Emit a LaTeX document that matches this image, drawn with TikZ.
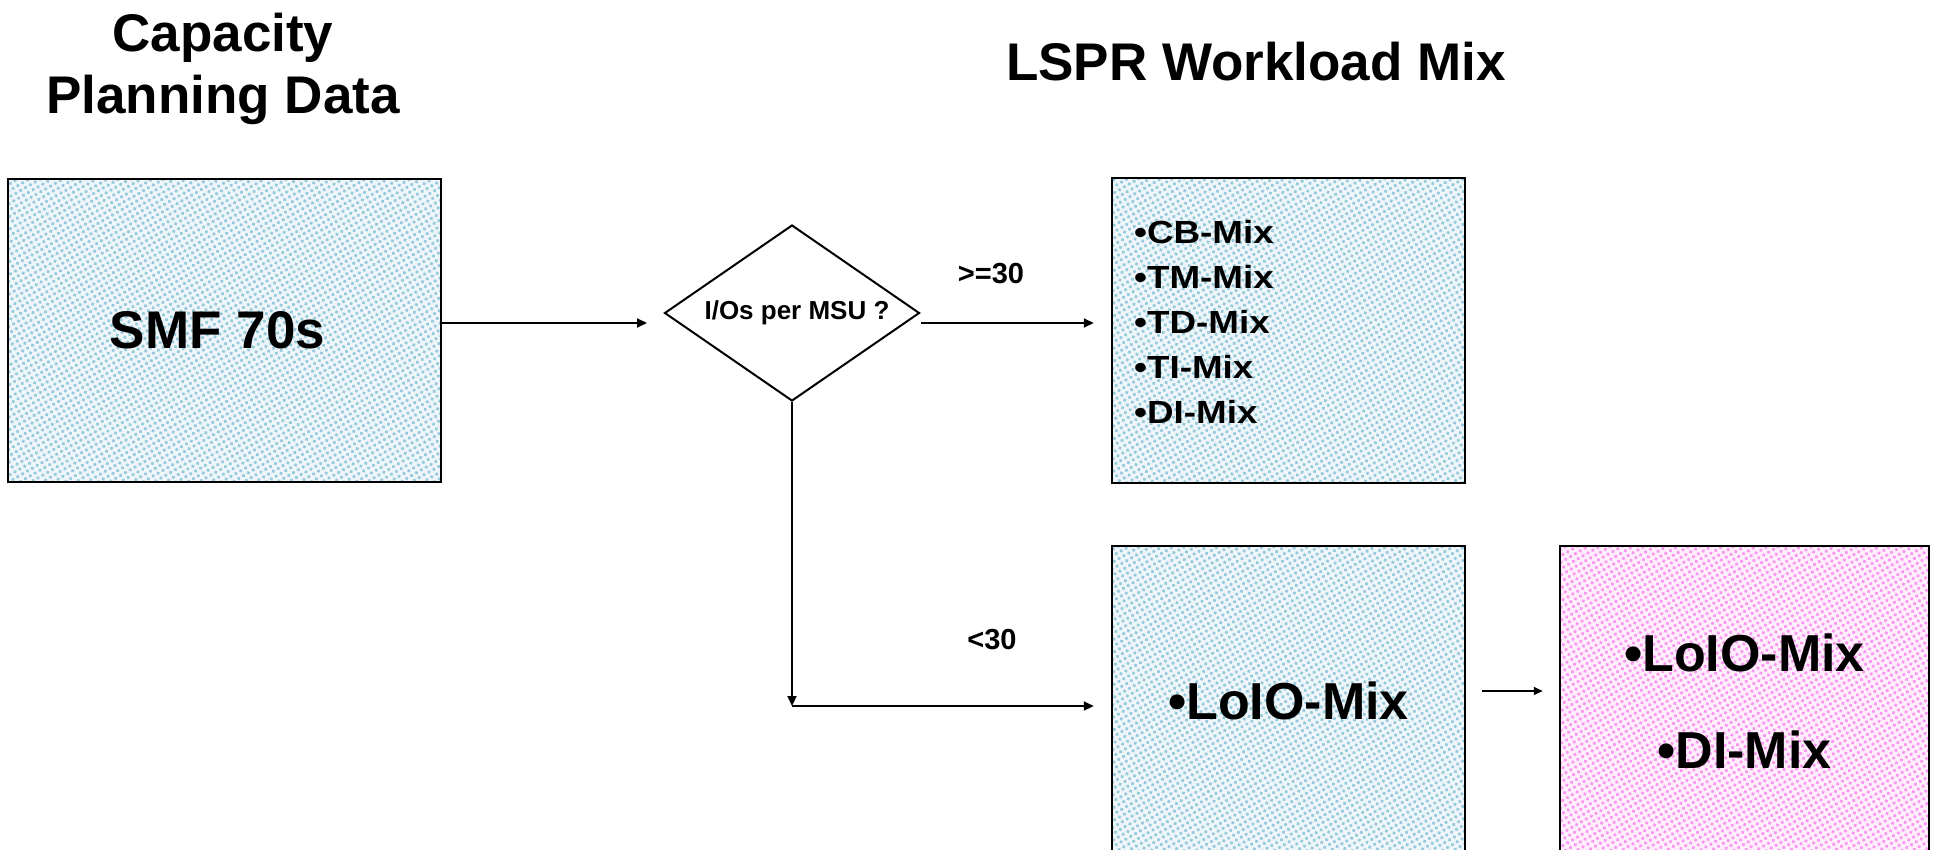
\documentclass[tikz,border=0pt]{standalone}
\usepackage{fontspec}
\setmainfont{Liberation Sans}
\newfontfamily\widesans{Liberation Sans}[FakeStretch=1.15]
\usetikzlibrary{shapes.geometric,arrows.meta,patterns.meta}

\definecolor{dotblue}{RGB}{150,201,219}
\definecolor{baseblue}{RGB}{238,246,249}
\definecolor{dotpink}{RGB}{250,150,240}
\definecolor{basepink}{RGB}{255,238,252}

\newcommand{\fsz}[2]{\fontsize{#1}{#2}\selectfont}

\begin{document}
\begin{tikzpicture}[x=1pt,y=-1pt,
  stippled/.style 2 args={draw=black, line width=2.5pt, rectangle, inner sep=0pt,
    preaction={fill=#2},
    preaction={pattern={Dots[distance=5.6pt,radius=1.9pt,angle=30]}, pattern color=#1}},
  bluebox/.style={stippled={dotblue}{baseblue}},
  pinkbox/.style={stippled={dotpink}{basepink}},
  decision/.style={diamond, draw=black, line width=2pt, inner sep=0pt, aspect=1.45,
    minimum width=255pt, minimum height=176pt, font=\bfseries\fsz{26}{30}},
  title/.style={font=\bfseries\fsz{53}{62}, align=center, inner sep=0pt},
  cond/.style={font=\bfseries\fsz{29}{34}, inner sep=0pt},
  flow/.style={line width=2pt, -{Triangle[length=10pt,width=9pt]}},
  thinflow/.style={line width=1.6pt, -{Triangle[length=9pt,width=8pt]}}]

  \useasboundingbox (0,0) rectangle (1936,849);
  \fill[white] (0,0) rectangle (1936,849);
  \clip (0,0) rectangle (1936,849);

  % headings
  \node[title] (ttlcap) at (223,68.5) {Capacity\\Planning Data};
  \node[title] (ttllspr) at (1256,62) {LSPR Workload Mix};

  % input data
  \node[bluebox, minimum width=433pt, minimum height=303pt,
        font=\bfseries\fsz{53}{60}] (smf) at (224.5,330.5) {SMF 70s\hspace*{14pt}};

  % decision
  \node[decision] (dec) at (792,313) {\hspace*{10pt}I/Os per MSU ?};

  % high I/O workload mixes
  \node[bluebox, minimum width=353pt, minimum height=305pt] (mixes) at (1288.5,330.5) {};
  \node[font=\widesans\bfseries\fsz{32}{45}, align=left, anchor=west, inner sep=0pt]
        (mixlist) at (1134,322) {•CB-Mix\\•TM-Mix\\•TD-Mix\\•TI-Mix\\•DI-Mix};

  % low I/O workload mix
  \node[bluebox, minimum width=353pt, minimum height=310pt,
        font=\bfseries\fsz{52}{60}] (lowio) at (1288.5,701) {•LoIO-Mix};

  % resulting mixes
  \node[pinkbox, minimum width=369pt, minimum height=310pt, align=center,
        font=\bfseries\fsz{52}{97}] (merged) at (1744.5,701) {•LoIO-Mix\\•DI-Mix};

  % branch labels
  \node[cond] (ge) at (991,274) {>=30};
  \node[cond] (lt) at (992,640) {<30};

  % connectors
  \coordinate (inA) at (647,323);
  \draw[flow] (smf.east |- inA) -- (inA);

  \coordinate (outA) at (921,323);
  \draw[flow, shorten >=17pt] (outA) -- (mixes.west |- outA);

  \coordinate (corner) at (792,706);
  \draw[flow] (dec.south) -- (corner);
  \draw[flow, shorten >=17pt] (corner) -- (lowio.west |- corner);

  \draw[thinflow] ([xshift=16pt,yshift=10pt]lowio.east) -- ([xshift=-16pt,yshift=10pt]merged.west);
\end{tikzpicture}
\end{document}
